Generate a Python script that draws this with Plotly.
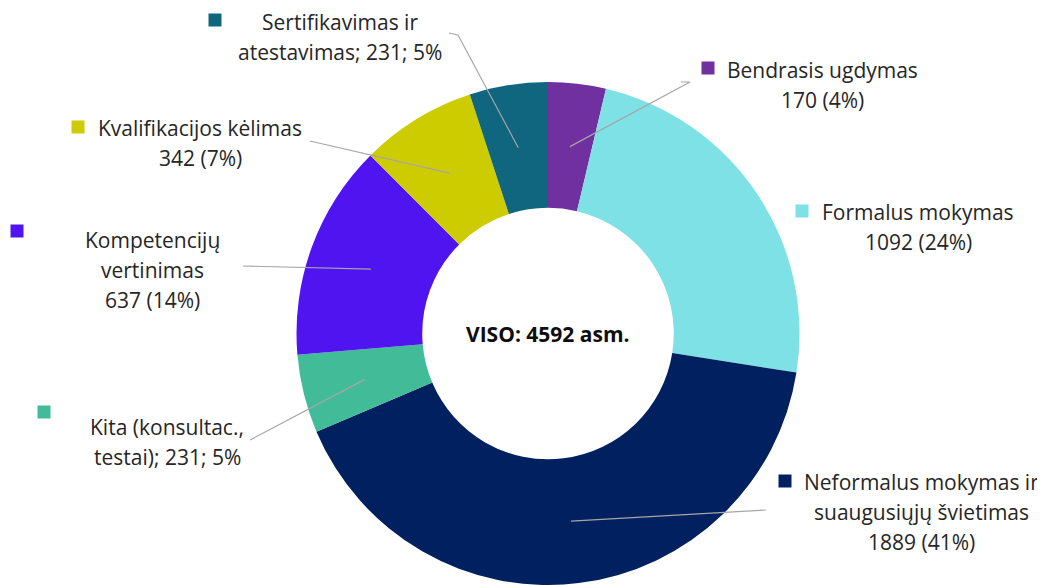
import math
import plotly.graph_objects as go

# Duomenys
categories = [
    "Bendrasis ugdymas",
    "Formalus mokymas",
    "Neformalus mokymas ir suaugusiųjų švietimas",
    "Kita (konsultac., testai)",
    "Kompetencijų vertinimas",
    "Kvalifikacijos kėlimas",
    "Sertifikavimas ir atestavimas",
]
values = [170, 1092, 1889, 231, 637, 342, 231]
colors = ["#7030A0", "#7DE1E6", "#002060", "#42BC98", "#5014F0", "#CCCC00", "#10657F"]

# Etikečių tekstas (eilutėmis) ir formatas: "paren" -> "170 (4%)", "semi" -> "; 231; 5%"
label_lines = [
    ["Bendrasis ugdymas"],
    ["Formalus mokymas"],
    ["Neformalus mokymas ir", "suaugusiųjų švietimas"],
    ["Kita (konsultac.,", "testai)"],
    ["Kompetencijų", "vertinimas"],
    ["Kvalifikacijos kėlimas"],
    ["Sertifikavimas ir", "atestavimas"],
]
label_style = ["paren", "paren", "paren", "semi", "paren", "paren", "semi"]

# Išdėstymas (ekrano pikseliais): teksto centras, kvadratėlis, linijos išorinis galas
W, H = 1045, 585
OFF = 8  # puslapio body paraštė
FW, FH = W - OFF, H - OFF
CX, CY, R = 548, 334, 251.5
text_pos = [(822, 70), (918, 212), (921, 482), (167, 427), (152, 240), (200, 128), (340, 22)]
square_pos = [(708, 68), (802, 211), (785, 481), (44, 412), (17, 231), (78, 127), (215, 20)]
leader_end = [[(690, 82), (681, 82)], None, [(766, 510)], [(250, 440)], [(243, 266)],
              [(310, 141)], [(458, 35), (449, 33)]]
LINE_H = 30
FONT = "Open Sans"

total = sum(values)


def P(x, y):
    return (x - OFF) / FW, 1 - (y - OFF) / FH


fig = go.Figure(go.Pie(
    labels=categories,
    values=values,
    hole=0.5,
    sort=False,
    direction="clockwise",
    rotation=0,
    marker=dict(colors=colors, line=dict(width=0)),
    textinfo="none",
    hoverinfo="label+value+percent",
    domain=dict(x=[(CX - R - OFF) / FW, (CX + R - OFF) / FW], y=[0, (2 * R) / FH]),
))

annotations = []
shapes = []
cum = 0
for i, v in enumerate(values):
    pct = round(v / total * 100)
    lines = list(label_lines[i])
    if label_style[i] == "semi":
        lines[-1] = f"{lines[-1]}; {v}; {pct}%"
    else:
        lines.append(f"{v} ({pct}%)")
    tx, ty = text_pos[i]
    for k, ln in enumerate(lines):
        x, y = P(tx, ty + k * LINE_H)
        annotations.append(dict(x=x, y=y, xref="paper", yref="paper", text=ln,
                                showarrow=False, xanchor="center", yanchor="middle",
                                font=dict(family=FONT, size=21, color="#262626")))
    sx, sy = square_pos[i]
    x0, y0 = P(sx - 6.5, sy + 6.5)
    x1, y1 = P(sx + 6.5, sy - 6.5)
    shapes.append(dict(type="rect", xref="paper", yref="paper", x0=x0, y0=y0, x1=x1, y1=y1,
                       fillcolor=colors[i], line=dict(width=0)))

    # linija nuo sektoriaus vidurio iki etiketės
    mid = (cum + v / 2) / total * 2 * math.pi
    cum += v
    if leader_end[i] is None:
        continue
    rm = R * 0.75
    pts = [(CX + rm * math.sin(mid), CY - rm * math.cos(mid))] + leader_end[i]
    path = ""
    for j, (px, py) in enumerate(pts):
        x, y = P(px, py)
        path += ("M" if j == 0 else "L") + f"{x},{y} "
    shapes.append(dict(type="path", xref="paper", yref="paper", path=path,
                       line=dict(color="#A6A6A6", width=1.2)))

cx, cy = P(CX, CY)
annotations.append(dict(x=cx, y=cy, xref="paper", yref="paper",
                        text=f"<b>VISO: {total} asm.</b>", showarrow=False,
                        font=dict(family=FONT, size=21, color="#0D0D0D")))

fig.update_layout(
    width=FW, height=FH,
    margin=dict(l=0, r=0, t=0, b=0),
    paper_bgcolor="white",
    plot_bgcolor="white",
    showlegend=False,
    annotations=annotations,
    shapes=shapes,
)

fig.write_html("out.html")
